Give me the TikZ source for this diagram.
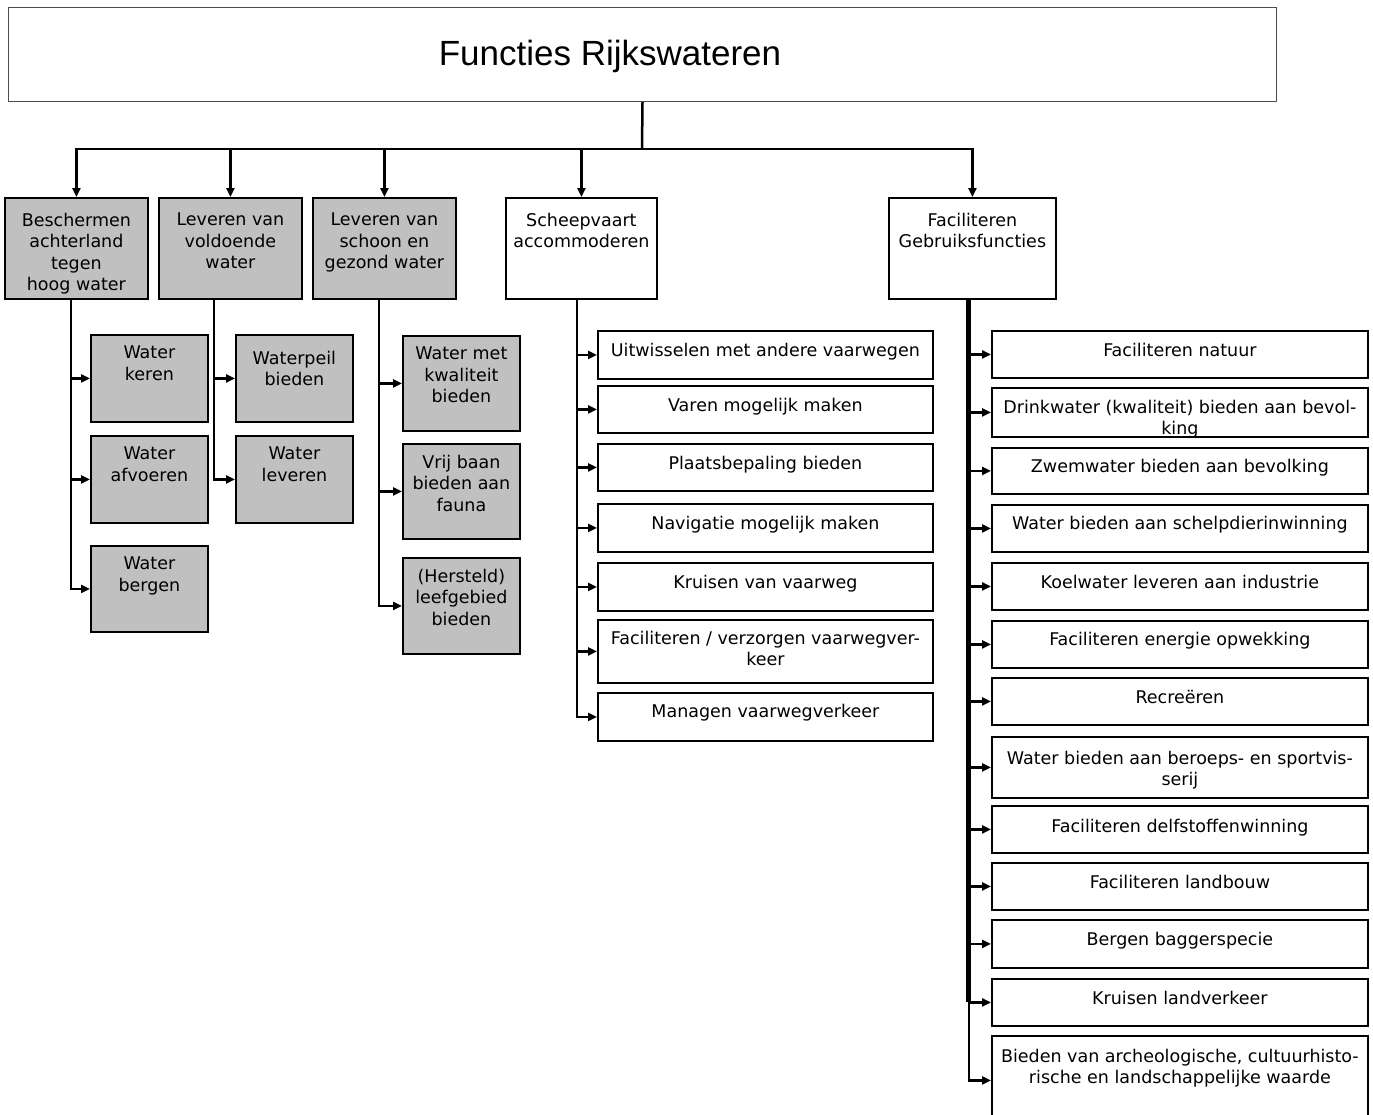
\documentclass[tikz,border=0pt]{standalone}
\usepackage{fontspec}
\setmainfont{DejaVu Sans}
\newfontfamily\titlefont{Liberation Sans}
\usetikzlibrary{arrows.meta}
\definecolor{boxgray}{RGB}{192,192,192}
\newcommand{\celltext}[4]{\parbox[c][#2pt][t]{#1pt}{\centering\vspace*{#3pt}#4\par}}
\begin{document}
\begin{tikzpicture}[x=1pt,y=-1pt,>={Triangle[length=9pt,width=8pt]},line join=miter,
	wbox/.style={draw,line width=1.8pt,fill=white,inner sep=0pt,anchor=north west,font=\fontsize{17.5}{21.5}\selectfont},
	gbox/.style={wbox,fill=boxgray},
	link/.style={line width=2.5pt},
	trunk/.style={line width=5pt}]
	\useasboundingbox (0,0) rectangle (1373,1114);
	\node[draw=black!70,line width=1pt,inner sep=0pt,anchor=north west] (title) at (8,7) {\parbox[c][94pt][c]{1268pt}{\centering\titlefont\fontsize{35}{40}\selectfont\vspace*{4pt}Functies Rijkswateren\hspace*{65pt}\par}};
	\coordinate (bus) at (642,149);
	\node[gbox] (b1) at (4,197) {\celltext{143}{101}{15}{Beschermen\\achterland\\tegen\\hoog water}};
	\node[gbox] (b2) at (158,197) {\celltext{143}{101}{15}{Leveren van\\voldoende\\water}};
	\node[gbox] (b3) at (312,197) {\celltext{143}{101}{15}{Leveren van\\schoon en\\gezond water}};
	\node[wbox] (b4) at (505,197) {\celltext{151}{101}{15}{Scheepvaart\\accommoderen}};
	\node[wbox] (b5) at (888,197) {\celltext{167}{101}{15}{Faciliteren\\Gebruiksfuncties}};
	\draw[link] (title.south) -- (bus);
	\draw[link,->] (bus) -| (b1.north);
	\draw[link,->] (bus) -| (b2.north);
	\draw[link,->] (bus) -| (b3.north);
	\draw[link,->] (bus) -| (b4.north);
	\draw[link,->] (bus) -| (b5.north);
	\node[gbox] (k1) at (90,334) {\celltext{117}{87}{11}{Water\\keren}};
	\node[gbox] (k2) at (90,435) {\celltext{117}{87}{11}{Water\\afvoeren}};
	\node[gbox] (k3) at (90,545) {\celltext{117}{86}{11}{Water\\bergen}};
	\draw[link,->] ([xshift=-5.5]b1.south) |- (k1.west);
	\draw[link,->] ([xshift=-5.5]b1.south) |- (k2.west);
	\draw[link,->] ([xshift=-5.5]b1.south) |- (k3.west);
	\node[gbox] (m1) at (235,334) {\celltext{117}{87}{16}{Waterpeil\\bieden}};
	\node[gbox] (m2) at (235,435) {\celltext{117}{87}{11}{Water\\leveren}};
	\draw[link,->] ([xshift=-16.5]b2.south) |- (m1.west);
	\draw[link,->] ([xshift=-16.5]b2.south) |- (m2.west);
	\node[gbox] (s1) at (402,335) {\celltext{117}{95}{11}{Water met\\kwaliteit\\bieden}};
	\node[gbox] (s2) at (402,443) {\celltext{117}{95}{11}{Vrij baan\\bieden aan\\fauna}};
	\node[gbox] (s3) at (402,557) {\celltext{117}{96}{11}{(Hersteld)\\leefgebied\\bieden}};
	\draw[link,->] ([xshift=-5.5]b3.south) |- (s1.west);
	\draw[link,->] ([xshift=-5.5]b3.south) |- (s2.west);
	\draw[link,->] ([xshift=-5.5]b3.south) |- (s3.west);
	\node[wbox] (v1) at (597,330) {\celltext{335}{48}{12}{Uitwisselen met andere vaarwegen}};
	\node[wbox] (v2) at (597,385) {\celltext{335}{47}{12}{Varen mogelijk maken}};
	\node[wbox] (v3) at (597,443) {\celltext{335}{47}{12}{Plaatsbepaling bieden}};
	\node[wbox] (v4) at (597,503) {\celltext{335}{48}{12}{Navigatie mogelijk maken}};
	\node[wbox] (v5) at (597,562) {\celltext{335}{48}{12}{Kruisen van vaarweg}};
	\node[wbox] (v6) at (597,619) {\celltext{335}{63}{11}{Faciliteren / verzorgen vaarwegver-\\keer}};
	\node[wbox] (v7) at (597,692) {\celltext{335}{48}{11}{Managen vaarwegverkeer}};
	\draw[link,->] ([xshift=-4.5]b4.south) |- (v1.west);
	\draw[link,->] ([xshift=-4.5]b4.south) |- (v2.west);
	\draw[link,->] ([xshift=-4.5]b4.south) |- (v3.west);
	\draw[link,->] ([xshift=-4.5]b4.south) |- (v4.west);
	\draw[link,->] ([xshift=-4.5]b4.south) |- (v5.west);
	\draw[link,->] ([xshift=-4.5]b4.south) |- (v6.west);
	\draw[link,->] ([xshift=-4.5]b4.south) |- (v7.west);
	\node[wbox] (f1) at (991,330) {\celltext{376}{47}{12}{Faciliteren natuur}};
	\node[wbox] (f2) at (991,387) {\celltext{376}{49}{12}{Drinkwater (kwaliteit) bieden aan bevol-\\king}};
	\node[wbox] (f3) at (991,447) {\celltext{376}{46}{11}{Zwemwater bieden aan bevolking}};
	\node[wbox] (f4) at (991,504) {\celltext{376}{47}{11}{Water bieden aan schelpdierinwinning}};
	\node[wbox] (f5) at (991,562) {\celltext{376}{47}{12}{Koelwater leveren aan industrie}};
	\node[wbox] (f6) at (991,620) {\celltext{376}{47}{11}{Faciliteren energie opwekking}};
	\node[wbox] (f7) at (991,677) {\celltext{376}{47}{12}{Recreëren}};
	\node[wbox] (f8) at (991,736) {\celltext{376}{61}{14}{Water bieden aan beroeps- en sportvis-\\serij}};
	\node[wbox] (f9) at (991,805) {\celltext{376}{47}{13}{Faciliteren delfstoffenwinning}};
	\node[wbox] (f10) at (991,862) {\celltext{376}{47}{12}{Faciliteren landbouw}};
	\node[wbox] (f11) at (991,919) {\celltext{376}{48}{12}{Bergen baggerspecie}};
	\node[wbox] (f12) at (991,978) {\celltext{376}{47}{12}{Kruisen landverkeer}};
	\node[wbox] (f13) at (991,1035) {\celltext{376}{85}{13}{Bieden van archeologische, cultuurhisto-\\rische en landschappelijke waarde}};
	\draw[trunk] ([xshift=-3.5]b5.south) -- ([xshift=-3.5]b5.south |- f12.west);
	\draw[link,->] ([xshift=-3.5]b5.south) |- (f1.west);
	\draw[link,->] ([xshift=-3.5]b5.south) |- (f2.west);
	\draw[link,->] ([xshift=-3.5]b5.south) |- (f3.west);
	\draw[link,->] ([xshift=-3.5]b5.south) |- (f4.west);
	\draw[link,->] ([xshift=-3.5]b5.south) |- (f5.west);
	\draw[link,->] ([xshift=-3.5]b5.south) |- (f6.west);
	\draw[link,->] ([xshift=-3.5]b5.south) |- (f7.west);
	\draw[link,->] ([xshift=-3.5]b5.south) |- (f8.west);
	\draw[link,->] ([xshift=-3.5]b5.south) |- (f9.west);
	\draw[link,->] ([xshift=-3.5]b5.south) |- (f10.west);
	\draw[link,->] ([xshift=-3.5]b5.south) |- (f11.west);
	\draw[link,->] ([xshift=-3.5]b5.south) |- (f12.west);
	\draw[link,->] ([xshift=-3.5]b5.south) |- ([yshift=-2]f13.west);
\end{tikzpicture}
\end{document}
